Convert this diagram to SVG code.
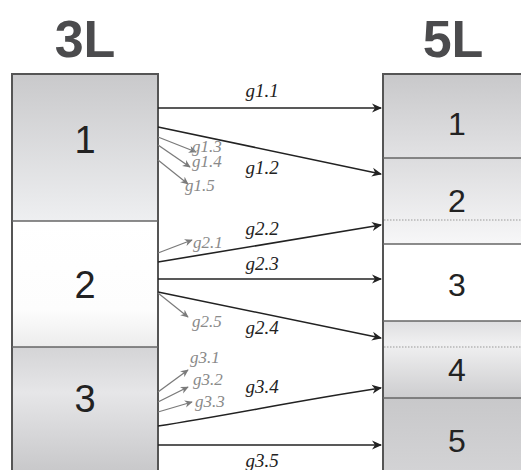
<svg xmlns="http://www.w3.org/2000/svg" width="521" height="470" viewBox="0 0 521 470">
<defs>
<linearGradient id="gDark" x1="0" y1="0" x2="0" y2="1"><stop offset="0" stop-color="#c9c9cb"/><stop offset="1" stop-color="#eeeff1"/></linearGradient>
<linearGradient id="gWhite" x1="0" y1="0" x2="0" y2="1"><stop offset="0" stop-color="#ffffff"/><stop offset="0.7" stop-color="#fdfdfd"/><stop offset="1" stop-color="#ececec"/></linearGradient>
<linearGradient id="gL3" x1="0" y1="0" x2="0" y2="1"><stop offset="0" stop-color="#d4d4d6"/><stop offset="0.35" stop-color="#e6e6e8"/><stop offset="1" stop-color="#c6c6c8"/></linearGradient>
<linearGradient id="gR1" x1="0" y1="0" x2="0" y2="1"><stop offset="0" stop-color="#c8c8ca"/><stop offset="1" stop-color="#e2e2e4"/></linearGradient>
<linearGradient id="gR2" x1="0" y1="0" x2="0" y2="1"><stop offset="0" stop-color="#dcdcde"/><stop offset="1" stop-color="#f7f7f8"/></linearGradient>
<linearGradient id="gR4" x1="0" y1="0" x2="0" y2="1"><stop offset="0" stop-color="#dedee0"/><stop offset="0.3" stop-color="#f0f0f1"/><stop offset="1" stop-color="#cdcdcf"/></linearGradient>
<linearGradient id="gR5" x1="0" y1="0" x2="0" y2="1"><stop offset="0" stop-color="#c8c8ca"/><stop offset="1" stop-color="#d4d4d6"/></linearGradient>
<marker id="ah" viewBox="0 0 10 10" refX="9" refY="5" markerWidth="10" markerHeight="10" markerUnits="userSpaceOnUse" orient="auto"><path d="M0,0.5 L10,5 L0,9.5 L3,5 Z" fill="#222"/></marker>
<marker id="ahg" viewBox="0 0 10 10" refX="9" refY="5" markerWidth="8" markerHeight="8" markerUnits="userSpaceOnUse" orient="auto"><path d="M0,0.5 L10,5 L0,9.5 L3,5 Z" fill="#7a7a7a"/></marker>
</defs>
<style>
.title{font-family:"Liberation Sans",Arial,sans-serif;font-weight:bold;font-size:52px;fill:#4b4b4d;text-anchor:middle}
.numL{font-family:"Liberation Sans",Arial,sans-serif;font-size:38px;fill:#222;text-anchor:middle}
.numR{font-family:"Liberation Sans",Arial,sans-serif;font-size:32px;fill:#222;text-anchor:middle}
.lab{font-family:"Liberation Serif","Times New Roman",serif;font-style:italic;font-size:19px;fill:#222;text-anchor:middle}
.labg{font-family:"Liberation Serif","Times New Roman",serif;font-style:italic;font-size:17px;fill:#8a8a8a}
.box{stroke:#555;stroke-width:2}
.div{stroke:#666;stroke-width:1.5}
.dot{stroke:#999;stroke-width:1;stroke-dasharray:1.5 1.5}
.arr{stroke:#222;stroke-width:1.6;fill:none;marker-end:url(#ah)}
.arrg{stroke:#7a7a7a;stroke-width:1.3;fill:none;marker-end:url(#ahg)}
</style>
<rect width="521" height="470" fill="#ffffff"/>
<text class="title" x="85" y="57">3L</text>
<text class="title" x="453" y="57">5L</text>
<g id="left">
<g id="L1"><rect x="12" y="74" width="146" height="147" fill="url(#gDark)"/><text class="numL" x="85" y="153">1</text></g>
<g id="L2"><rect x="12" y="221" width="146" height="126" fill="url(#gWhite)"/><text class="numL" x="85" y="298">2</text></g>
<g id="L3"><rect x="12" y="347" width="146" height="130" fill="url(#gL3)"/><text class="numL" x="85" y="412">3</text></g>
<rect class="box" x="12" y="74" width="146" height="410" fill="none"/>
<line class="div" x1="12" y1="221" x2="158" y2="221"/>
<line class="div" x1="12" y1="347" x2="158" y2="347"/>
</g>
<g id="right">
<g id="R1"><rect x="383" y="74" width="145" height="84" fill="url(#gR1)"/><text class="numR" x="457" y="135">1</text></g>
<g id="R2"><rect x="383" y="158" width="145" height="86" fill="url(#gR2)"/><text class="numR" x="457" y="212">2</text></g>
<g id="R3"><rect x="383" y="244" width="145" height="77" fill="#ffffff"/><text class="numR" x="457" y="296">3</text></g>
<g id="R4"><rect x="383" y="321" width="145" height="77" fill="url(#gR4)"/><text class="numR" x="457" y="381">4</text></g>
<g id="R5"><rect x="383" y="398" width="145" height="80" fill="url(#gR5)"/><text class="numR" x="457" y="452">5</text></g>
<rect class="box" x="383" y="74" width="150" height="410" fill="none"/>
<line class="div" x1="383" y1="158" x2="528" y2="158"/>
<line class="div" x1="383" y1="244" x2="528" y2="244"/>
<line class="div" x1="383" y1="321" x2="528" y2="321"/>
<line class="div" x1="383" y1="398" x2="528" y2="398"/>
<line class="dot" x1="384" y1="220" x2="521" y2="220"/>
<line class="dot" x1="384" y1="347" x2="521" y2="347"/>
</g>
<g id="connectors">
<line class="arr" x1="158" y1="108" x2="381" y2="108"/>
<line class="arr" x1="158" y1="127" x2="381" y2="174"/>
<line class="arrg" x1="158" y1="137" x2="196" y2="152"/>
<line class="arrg" x1="158" y1="145" x2="190" y2="167"/>
<line class="arrg" x1="158" y1="160" x2="188" y2="184"/>
<line class="arrg" x1="158" y1="253" x2="192" y2="240"/>
<line class="arr" x1="158" y1="262" x2="381" y2="225"/>
<line class="arr" x1="158" y1="279" x2="381" y2="279"/>
<line class="arr" x1="158" y1="292" x2="381" y2="338"/>
<line class="arrg" x1="158" y1="293" x2="188" y2="317"/>
<line class="arrg" x1="158" y1="392" x2="188" y2="370"/>
<line class="arrg" x1="158" y1="402" x2="188" y2="387"/>
<line class="arrg" x1="158" y1="412" x2="192" y2="402"/>
<path class="arr" d="M158,426 C230,415 300,400 381,388"/>
<line class="arr" x1="158" y1="445" x2="381" y2="445"/>
</g>
<g id="labels">
<text class="lab" x="262" y="97">g1.1</text>
<text class="lab" x="262" y="174">g1.2</text>
<text class="labg" x="192" y="152">g1.3</text>
<text class="labg" x="192" y="167">g1.4</text>
<text class="labg" x="185" y="191">g1.5</text>
<text class="labg" x="193" y="248">g2.1</text>
<text class="lab" x="262" y="235">g2.2</text>
<text class="lab" x="262" y="270">g2.3</text>
<text class="lab" x="262" y="334">g2.4</text>
<text class="labg" x="192" y="327">g2.5</text>
<text class="labg" x="190" y="363">g3.1</text>
<text class="labg" x="193" y="385">g3.2</text>
<text class="labg" x="195" y="407">g3.3</text>
<text class="lab" x="262" y="393">g3.4</text>
<text class="lab" x="262" y="467">g3.5</text>
</g>
</svg>
